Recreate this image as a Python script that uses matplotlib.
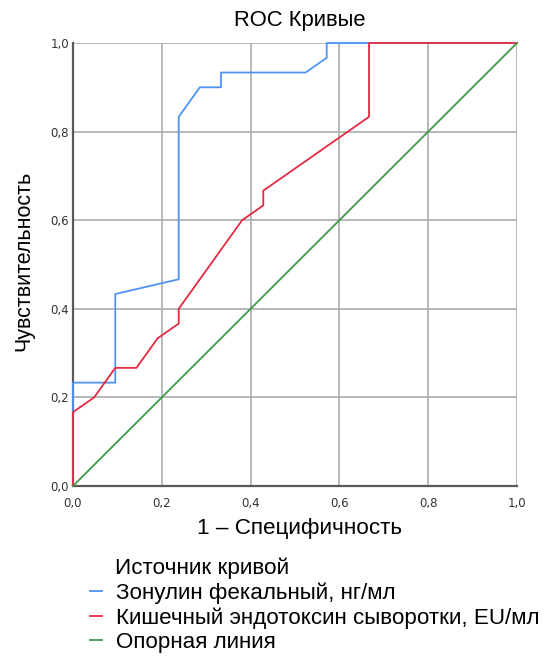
import matplotlib
matplotlib.use('Agg')
import matplotlib.pyplot as plt
from matplotlib.lines import Line2D
from matplotlib.ticker import FuncFormatter

plt.rcParams['font.family'] = ['Liberation Sans', 'DejaVu Sans']

# ROC points (1 - specificity, sensitivity)
zonulin_fpr = [0, 0, 2/21, 2/21, 5/21, 5/21, 6/21, 7/21, 7/21, 11/21, 12/21, 12/21, 1]
zonulin_tpr = [0, 7/30, 7/30, 13/30, 14/30, 25/30, 27/30, 27/30, 28/30, 28/30, 29/30, 1, 1]

endotox_fpr = [0, 0, 1/21, 2/21, 3/21, 4/21, 5/21, 5/21, 8/21, 9/21, 9/21, 14/21, 14/21, 1]
endotox_tpr = [0, 5/30, 6/30, 8/30, 8/30, 10/30, 11/30, 12/30, 18/30, 19/30, 20/30, 25/30, 1, 1]

ref_x = [0, 1]
ref_y = [0, 1]

labels = ['Зонулин фекальный, нг/мл',
          'Кишечный эндотоксин сыворотки, EU/мл',
          'Опорная линия']
ticks = [0, 0.2, 0.4, 0.6, 0.8, 1.0]

colors = ['#4F93F2', '#E42A3F', '#3E9A48']

fig = plt.figure(figsize=(5.52, 6.56), dpi=100)
ax = fig.add_axes([73/552, 1 - 486/656, 444/552, 443/656])

ax.plot(zonulin_fpr, zonulin_tpr, color=colors[0], lw=1.3, zorder=3, clip_on=False)
ax.plot(endotox_fpr, endotox_tpr, color=colors[1], lw=1.3, zorder=4, clip_on=False)
ax.plot(ref_x, ref_y, color=colors[2], lw=1.3, zorder=5, clip_on=False)

ax.set_xlim(0, 1)
ax.set_ylim(0, 1)
ax.set_xticks(ticks)
ax.set_yticks(ticks)
fmt = FuncFormatter(lambda v, p: f'{v:.1f}'.replace('.', ','))
ax.xaxis.set_major_formatter(fmt)
ax.yaxis.set_major_formatter(fmt)
ax.tick_params(length=0, labelsize=8.5, colors='#333333')
ax.tick_params(axis='x', pad=8)
ax.tick_params(axis='y', pad=3)
for lab in ax.get_xticklabels() + ax.get_yticklabels():
    lab.set_family('DejaVu Sans')

ax.grid(True, color='#ababab', lw=1.2, zorder=1)
ax.set_axisbelow(True)
for s in ['top', 'right']:
    ax.spines[s].set_visible(False)
for s in ['left', 'bottom']:
    ax.spines[s].set_color('#5a5a5a')
    ax.spines[s].set_linewidth(1.6)

ax.set_title('ROC Кривые', fontsize=15.8, pad=12, x=0.51)
ax.set_xlabel('1 – Специфичность', fontsize=16.2)
ax.xaxis.set_label_coords(0.51, -0.072)
ax.set_ylabel('Чувствительность', fontsize=15.5)
ax.yaxis.set_label_coords(-0.088, 0.508)

# legend
fig.text(115/552, 1 - 568/656, 'Источник кривой', fontsize=16.2, va='center', ha='left')
handles = [Line2D([], [], color=c, lw=1.3) for c in colors]
fig.legend(handles, labels, loc='upper left', bbox_to_anchor=(90/552, 1 - 582/656),
           frameon=False, fontsize=16.1, handlelength=0.55, handletextpad=0.62,
           labelspacing=0.16, borderpad=0, borderaxespad=0)

fig.savefig('out.png', dpi=100)
